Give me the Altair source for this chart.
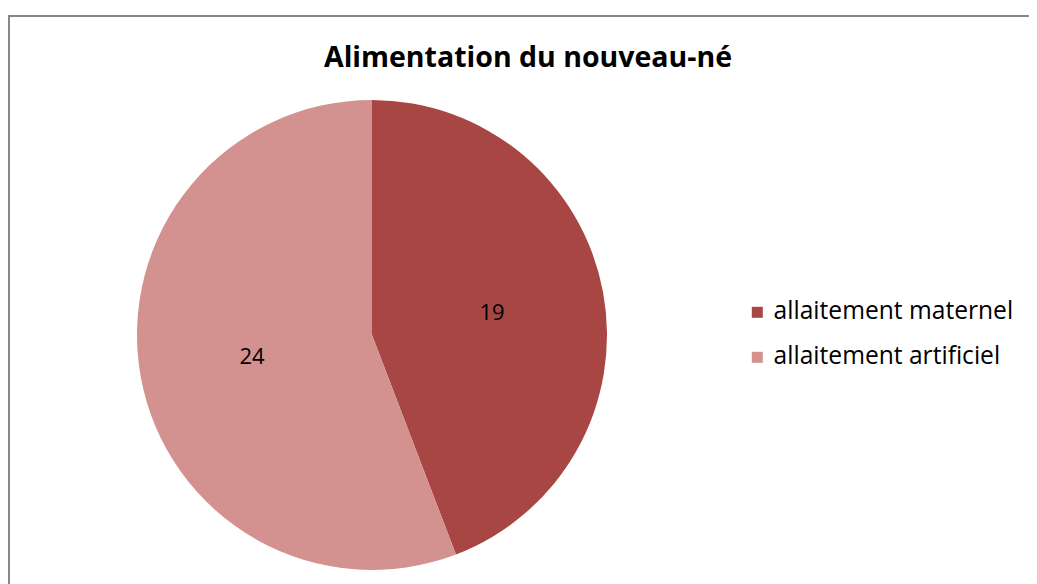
import altair as alt
import pandas as pd

categories = ["allaitement maternel", "allaitement artificiel"]
values = [19, 24]
colors = ["#A84644", "#D39190"]
title_text = "Alimentation du nouveau-né"

df = pd.DataFrame({"cat": categories, "val": values, "ord": [0, 1]})
FONT = "Open Sans"

color_scale = alt.Scale(domain=categories, range=colors)

border = alt.Chart(pd.DataFrame({"a": [0]})).mark_rect(
    fill="white", stroke="#878787", strokeWidth=2
).encode(x=alt.value(1), x2=alt.value(1022), y=alt.value(8), y2=alt.value(640))

title = alt.Chart(pd.DataFrame({"t": [title_text]})).mark_text(
    font=FONT, fontSize=28.5, fontWeight="bold", color="#000000", baseline="middle"
).encode(x=alt.value(520), y=alt.value(50), text="t:N")

base = alt.Chart(df).encode(
    theta=alt.Theta("val:Q", stack=True),
    order=alt.Order("ord:Q"),
    x=alt.value(364),
    y=alt.value(327),
)

arcs = base.mark_arc(outerRadius=235).encode(
    color=alt.Color(
        "cat:N",
        scale=color_scale,
        sort=categories,
        legend=alt.Legend(
            title=None,
            orient="none",
            legendX=737,
            legendY=292,
            symbolType="square",
            symbolSize=121,
            symbolStrokeWidth=0,
            labelFont=FONT,
            labelFontSize=24.6,
            labelColor="#000000",
            labelOffset=4,
            rowPadding=20,
            labelLimit=400,
        ),
    )
)

labels = base.mark_text(
    radius=122, font=FONT, fontSize=22, color="#000000"
).encode(text="val:Q")

chart = alt.layer(border, title, arcs, labels).properties(
    width=1021, height=576, padding=0, autosize=alt.AutoSizeParams(type="none")
).configure_view(stroke=None)

chart.save("out.html", embed_options={"renderer": "svg", "actions": False})
